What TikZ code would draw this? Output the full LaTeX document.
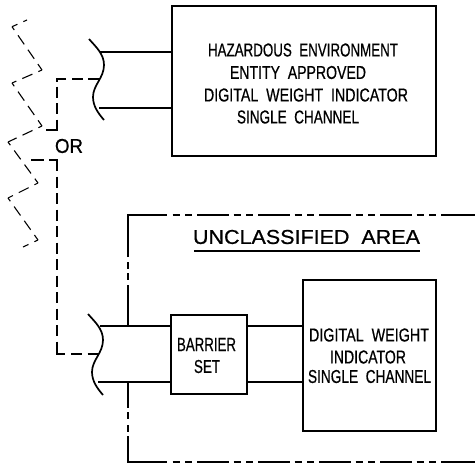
\documentclass[tikz,border=0pt]{standalone}
\usepackage{fontspec}
\usepackage{graphicx}
\setmainfont[FakeBold=0.7]{Liberation Sans}
\newcommand{\fittext}[3]{\resizebox{#1pt}{#2pt}{#3}}
\tikzset{
  x=1pt,y=-1pt,
  wire/.style={line width=1.7pt,black},
  boxed/.style={draw,line width=1.7pt,inner sep=0pt,anchor=north west},
  dashwire/.style={line width=1.7pt,dash pattern=on 11pt off 5.5pt},
  zig/.style={line width=1.1pt,dash pattern=on 11pt off 6.5pt,dash phase=7pt},
  border/.style={line width=1.7pt,dash pattern=on 7pt off 5.5pt on 7pt off 5pt on 32pt off 4.5pt},
  lab/.style={inner sep=0pt,anchor=center},
}
\begin{document}
\begin{tikzpicture}
\useasboundingbox (0,0) rectangle (475,463);
% boxes
\node[boxed,minimum width=264pt,minimum height=150pt] (hazbox) at (171,5) {};
\node[boxed,minimum width=76pt,minimum height=79pt] (barrier) at (170,314) {};
\node[boxed,minimum width=133pt,minimum height=151pt] (dwi) at (302,279) {};
% texts
\node[lab] (h1) at (303,50) {\fittext{190}{13}{HAZARDOUS\ \ ENVIRONMENT}};
\node[lab] (h2) at (298,72.5) {\fittext{136}{13}{ENTITY\ \ APPROVED}};
\node[lab] (h3) at (306,95) {\fittext{204}{13}{DIGITAL\ \ WEIGHT\ \ INDICATOR}};
\node[lab] (h4) at (298,117) {\fittext{122}{13}{SINGLE\ \ CHANNEL}};
\node[lab] (b1) at (206.5,344.5) {\fittext{59}{13}{BARRIER}};
\node[lab] (b2) at (207,366.5) {\fittext{26}{13}{SET}};
\node[lab] (d1) at (369,335) {\fittext{120}{13}{DIGITAL\ \ WEIGHT}};
\node[lab] (d2) at (368,357) {\fittext{76}{13}{INDICATOR}};
\node[lab] (d3) at (369.5,376.5) {\fittext{123}{13}{SINGLE\ \ CHANNEL}};
\node[lab] (ua) at (306.5,237) {\fittext{227}{14}{UNCLASSIFIED\ \ AREA}};
\node[lab] (or) at (69,146) {\fittext{28}{14}{OR}};
% coordinates
\coordinate (t1) at (100,52);
\coordinate (t2) at (99,108);
\coordinate (b1c) at (100,326);
\coordinate (b2c) at (98,382);
\coordinate (ul1) at (194,251);
\coordinate (ul2) at (420,251);
\draw[wire] (ul1) -- (ul2);
% wires
\draw[wire] (t1) -- (t1 -| hazbox.west);
\draw[wire] (t2) -- (t2 -| hazbox.west);
\draw[wire] (b1c) -- (b1c -| barrier.west);
\draw[wire] (b2c) -- (b2c -| barrier.west);
\draw[wire] (barrier.east |- b1c) -- (b1c -| dwi.west);
\draw[wire] (barrier.east |- b2c) -- (b2c -| dwi.west);
% cable break curves
\coordinate (w1) at (89,39); \coordinate (w3) at (104,120);
\draw[wire] (w1) .. controls (96,47) and (104,54) .. (104,65)
  .. controls (104,78) and (93,85) .. (93,97)
  .. controls (93,106) and (98,113) .. (w3);
\coordinate (v1) at (88,314); \coordinate (v3) at (103,395);
\draw[wire] (v1) .. controls (95,322) and (103,329) .. (103,340)
  .. controls (103,353) and (92,360) .. (92,372)
  .. controls (92,381) and (97,388) .. (v3);
% dashed links
\coordinate (d1a) at (99,79); \coordinate (d1b) at (57,79); \coordinate (d1c) at (57,130); \coordinate (d1d) at (46,130);
\draw[wire] (d1b) ++(4,0) -- (d1b) -- ++(0,3);
\draw[dashwire] (d1a) -- (d1b) -- (d1c);
\draw[wire] (d1c) ++(0,-4) -- (d1c) -- (d1d);
\coordinate (d2a) at (31,160); \coordinate (d2b) at (57,160); \coordinate (d2c) at (57,354); \coordinate (d2d) at (98,354);
\draw[wire] (d2a) -- ++(13,0);
\draw[wire] (d2b) ++(-8,0) -- (d2b) -- ++(0,4);
\draw[dashwire] (d2b) -- (d2c);
\draw[wire] (d2c) ++(0,-8) -- (d2c) -- ++(8,0);
\draw[dashwire] (d2c) ++(14,0) -- (d2d);
% zigzag
\foreach \a/\b/\c/\d in {27/20/12/26.7, 12/26.7/42/70, 42/70/12/83, 12/83/42/126, 42/126/8/142, 8/142/38/183, 38/183/8/198, 8/198/38/240, 38/240/23/247}
  \draw[zig] (\a,\b) -- (\c,\d);
% unclassified border
\coordinate (u1) at (475,215); \coordinate (u2) at (128,215); \coordinate (u3) at (128,462); \coordinate (u4) at (475,462);
\draw[wire] (128,257) -- (u2) -- (167,215);
\draw[wire] (128,285) -- (u2 |- b1c);
\foreach \p/\q in {262/268.5,273/280} \draw[wire] (128,\p) -- (128,\q);
\draw[border] (172.5,215) -- (u1);
\draw[wire] (465,215) -- (u1);
\draw[wire] (u3 |- b2c) -- (128,408);
\foreach \p/\q in {412/419,425/432} \draw[wire] (128,\p) -- (128,\q);
\draw[wire] (128,436) -- (u3) -- (167,462);
\draw[border] (172.5,462) -- (u4);
\draw[wire] (465,462) -- (u4);
\end{tikzpicture}
\end{document}
